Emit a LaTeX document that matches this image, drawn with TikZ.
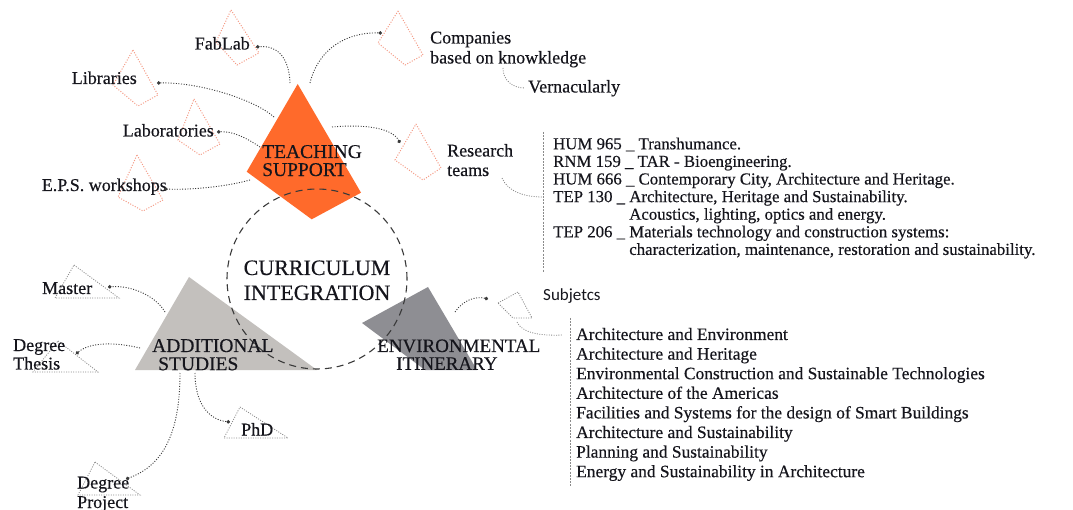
\documentclass[tikz,border=0pt]{standalone}
\usepackage{fontspec}
\setmainfont{Liberation Serif}[FakeBold=0.35]
\newfontfamily\subjfont{Carlito}
\usetikzlibrary{arrows.meta}
\definecolor{tsorange}{HTML}{FF6A2B}
\definecolor{asgray}{HTML}{C3C0BD}
\definecolor{eigray}{HTML}{8E8E93}
\definecolor{kitecol}{HTML}{F59A85}
\definecolor{tricol}{HTML}{8A8A8A}
\definecolor{conncol}{HTML}{3A3A3A}
\definecolor{txt}{HTML}{15151C}
\tikzset{
  lbl/.style={font=\fontsize{18}{20}\selectfont, text=txt, inner sep=0pt},
  biglbl/.style={font=\fontsize{19.5}{17}\selectfont, text=txt, inner sep=0pt},
  kite/.style={draw=kitecol, line width=1pt, dash pattern=on 1pt off 1.6pt},
  dtri/.style={draw=tricol, line width=0.8pt, dash pattern=on 1pt off 1.4pt},
  conn/.style={draw=conncol, line width=0.9pt, dash pattern=on 1pt off 1.6pt, -{Circle[length=3.5pt]}},
  connplain/.style={draw=tricol, line width=0.8pt, dash pattern=on 1pt off 1.4pt},
  bracket/.style={draw=tricol, line width=0.8pt, dash pattern=on 2pt off 1.2pt},
}
\begin{document}
\begin{tikzpicture}[x=1pt,y=-1pt]
\useasboundingbox (0,0) rectangle (1073,510);
\fill[white] (0,0) rectangle (1073,510);

% dotted kites (teaching support)
\draw[kite] (231,10) -- (259,53) -- (237,65) -- (216,42) -- cycle;
\draw[kite] (133,50) -- (158,95) -- (138,106) -- (113,85) -- cycle;
\draw[kite] (194,99) -- (220,144) -- (200,155) -- (178,140) -- cycle;
\draw[kite] (137,155) -- (163,200) -- (143,211) -- (118,197) -- cycle;
\draw[kite] (398,11) -- (423,55) -- (405,65) -- (378,43) -- cycle;
\draw[kite] (416,124) -- (441,168) -- (423,180) -- (395,160) -- cycle;

% dotted triangles (additional studies)
\draw[dtri] (74,265) -- (119,298) -- (55,298) -- cycle;
\draw[dtri] (58,341) -- (98,372) -- (33,372) -- cycle;
\draw[dtri] (240,407) -- (288,438) -- (224,438) -- cycle;
\draw[dtri] (95,462) -- (140,495) -- (78,495) -- cycle;
\draw[dtri] (498,303) -- (518,292) -- (532,318) -- (513,318) -- cycle;

% main shapes
\fill[tsorange] (297.7,84) -- (361,192.7) -- (311.7,219.3) -- (246.7,171.7) -- cycle;
\fill[asgray] (189,277) -- (317,370) -- (135,370) -- cycle;
\fill[eigray] (362,323) -- (428,287) -- (477,370) -- (425,370) -- cycle;

% central circle
\node[circle, draw=conncol, line width=1.1pt, dash pattern=on 7pt off 5pt, minimum size=180pt, inner sep=0pt] (circ) at (317,279) {};

% main labels
\node[biglbl, anchor=base west] (ts) at (262,158) {\begin{tabular}[t]{@{}l@{}}TEACHING\\SUPPORT\end{tabular}};
\node[font=\fontsize{22}{25}\selectfont, text=txt, inner sep=0pt, anchor=base] (ci) at (317,275) {\begin{tabular}[t]{@{}c@{}}CURRICULUM\\INTEGRATION\end{tabular}};
\node[biglbl, anchor=base west] (as) at (152,352) {\fontsize{19.5}{17.5}\selectfont\begin{tabular}[t]{@{}l@{}}ADDITIONAL\\\hspace*{6pt}STUDIES\end{tabular}};
\node[biglbl, anchor=base west] (ei) at (377,352) {\fontsize{19}{17.5}\selectfont\begin{tabular}[t]{@{}l@{}}ENVIRONMENTAL\\\hspace*{19pt}ITINERARY\end{tabular}};

% small labels
\node[lbl, anchor=base east] (fablab) at (250,49.5) {FabLab};
\node[lbl, anchor=base east] (libr) at (137,84) {Libraries};
\node[lbl, anchor=base east] (labs) at (214,136.5) {Laboratories};
\node[lbl, anchor=base east] (eps) at (167,191) {E.P.S. workshops};
\node[lbl, anchor=base west] (comp) at (430,43.5) {\fontsize{18}{20}\selectfont\begin{tabular}[t]{@{}l@{}}Companies\\based on knowkledge\end{tabular}};
\node[lbl, anchor=base west] (vern) at (528,92.5) {Vernacularly};
\node[lbl, anchor=base west] (res) at (447,156.5) {\fontsize{18}{19.5}\selectfont\begin{tabular}[t]{@{}l@{}}Research\\teams\end{tabular}};
\node[lbl, anchor=base west] (master) at (42,294) {Master};
\node[lbl, anchor=base west] (thesis) at (13,351) {\fontsize{18}{18.5}\selectfont\begin{tabular}[t]{@{}l@{}}Degree\\Thesis\end{tabular}};
\node[lbl, anchor=base west] (phd) at (241,435.5) {PhD};
\node[lbl, anchor=base west] (proj) at (77,488.5) {\fontsize{18}{19.5}\selectfont\begin{tabular}[t]{@{}l@{}}Degree\\Project\end{tabular}};
\node[inner sep=0pt, text=txt, font=\subjfont\fontsize{17}{18}\selectfont, anchor=base west] (subj) at (543,300.5) {Subjetcs};

% research list
\node[lbl, anchor=base west] (rlist) at (553,149.3) {\fontsize{16.8}{17.6}\selectfont\begin{tabular}[t]{@{}l@{}}
HUM 965 \_ Transhumance.\\
RNM 159 \_ TAR - Bioengineering.\\
HUM 666 \_ Contemporary City, Architecture and Heritage.\\
TEP 130 \_ Architecture, Heritage and Sustainability.\\
\hphantom{TEP 130 \_ }Acoustics, lighting, optics and energy.\\
TEP 206 \_ Materials technology and construction systems:\\
\hphantom{TEP 206 \_ }characterization, maintenance, restoration and sustainability.
\end{tabular}};

% subjects list
\node[lbl, anchor=base west] (slist) at (576,340) {\fontsize{17.4}{19.6}\selectfont\begin{tabular}[t]{@{}l@{}}
Architecture and Environment\\
Architecture and Heritage\\
Environmental Construction and Sustainable Technologies\\
Architecture of the Americas\\
Facilities and Systems for the design of Smart Buildings\\
Architecture and Sustainability\\
Planning and Sustainability\\
Energy and Sustainability in Architecture
\end{tabular}};

% brackets
\coordinate (rbTop) at (543,132);
\coordinate (rbBot) at (543,272);
\coordinate (sbTop) at (570,318);
\coordinate (sbBot) at (570,487);
\draw[bracket] (rbTop) -- (rbBot);
\draw[bracket] (sbTop) -- (sbBot);

% connector anchor points
\coordinate (tsA) at (290,83);   \coordinate (fabE) at (256,47);
\coordinate (tsB) at (274,117);  \coordinate (libE) at (157,83);
\coordinate (tsC) at (260,147);  \coordinate (labE) at (217,132);
\coordinate (tsD) at (250,180);  \coordinate (epsE) at (164,189);
\coordinate (tsE) at (310,83);   \coordinate (compE) at (382,33);
\coordinate (tsF) at (332,127);  \coordinate (resE) at (400,143);
\coordinate (compS) at (503,68); \coordinate (vernE) at (525,88);
\coordinate (resS) at (502,178); \coordinate (rbE) at (543,197);
\coordinate (asA) at (165,312);  \coordinate (masE) at (108,287);
\coordinate (asB) at (140,348);  \coordinate (theE) at (76,354);
\coordinate (asC) at (195,373);  \coordinate (phdE) at (230,422);
\coordinate (asD) at (180,373);  \coordinate (proE) at (126,479);
\coordinate (eiA) at (455,312);  \coordinate (subE) at (488,299);
\coordinate (subS) at (517,322); \coordinate (sbE) at (563,335);

% connectors
\draw[conn] (tsA) .. controls (289,56) and (276,45) .. (fabE);
\draw[conn] (tsB) .. controls (255,100) and (200,82) .. (libE);
\draw[conn] (tsC) .. controls (245,137) and (232,131) .. (labE);
\draw[conn] (tsD) .. controls (225,187) and (190,190) .. (epsE);
\draw[conn] (tsE) .. controls (318,50) and (345,32) .. (compE);
\draw[conn] (tsF) .. controls (365,124) and (392,128) .. (resE);
\draw[connplain] (compS) .. controls (503,80) and (512,88) .. (vernE);
\draw[connplain] (resS) .. controls (508,192) and (525,197) .. (rbE);
\draw[conn] (asA) .. controls (155,295) and (130,285) .. (masE);
\draw[conn] (asB) .. controls (115,342) and (90,342) .. (theE);
\draw[conn] (asC) .. controls (195,405) and (210,420) .. (phdE);
\draw[conn] (asD) .. controls (180,430) and (165,465) .. (proE);
\draw[conn] (eiA) .. controls (463,300) and (476,296) .. (subE);
\draw[connplain] (subS) .. controls (522,333) and (540,336) .. (sbE);
\end{tikzpicture}
\end{document}
